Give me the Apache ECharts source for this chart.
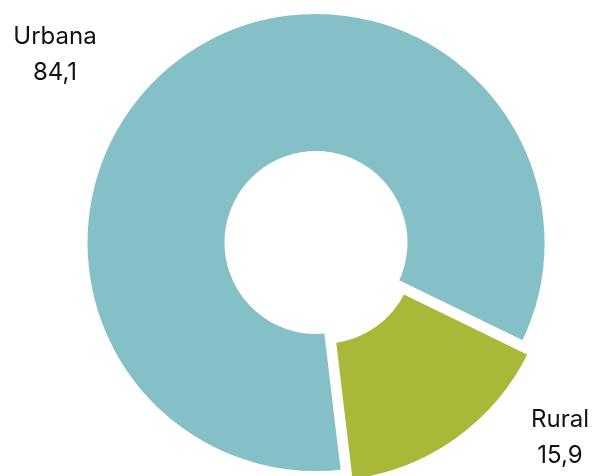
<!DOCTYPE html>
<html>
<head>
<meta charset="utf-8">
<script src="https://cdn.jsdelivr.net/npm/echarts@6/dist/echarts.min.js"></script>
<style>
html,body{margin:0;padding:0;background:#fff;}
#chart{width:593px;height:476px;}
</style>
</head>
<body>
<div id="chart"></div>
<script>
var categories = ['Urbana', 'Rural'];
var values = [84.1, 15.9];
var colors = ['#84c0c6', '#aab83a'];

var labelPos = {
  'Urbana': {x: 55, y: 55},
  'Rural': {x: 560, y: 438}
};

function fmt(v) { return String(v).replace('.', ','); }

var chart = echarts.init(document.getElementById('chart'));
chart.setOption({
  animation: false,
  graphic: categories.map(function (c, i) {
    return {
      type: 'text',
      x: labelPos[c].x,
      y: labelPos[c].y,
      silent: true,
      style: {
        text: c + '\n' + fmt(values[i]),
        fontFamily: 'Inter',
        fontSize: 24,
        lineHeight: 36,
        fill: '#111111',
        align: 'center',
        verticalAlign: 'middle'
      }
    };
  }),
  series: [{
    type: 'pie',
    center: [316, 242.5],
    radius: [89, 231],
    startAngle: 276.8,
    clockwise: true,
    selectedMode: 'single',
    selectedOffset: 12,
    emphasis: {disabled: true},
    itemStyle: {borderColor: '#ffffff', borderWidth: 5},
    label: {show: false},
    labelLine: {show: false},
    data: categories.map(function (c, i) {
      return {name: c, value: values[i], selected: c === 'Rural', itemStyle: {color: colors[i]}};
    })
  }]
});
</script>
</body>
</html>
